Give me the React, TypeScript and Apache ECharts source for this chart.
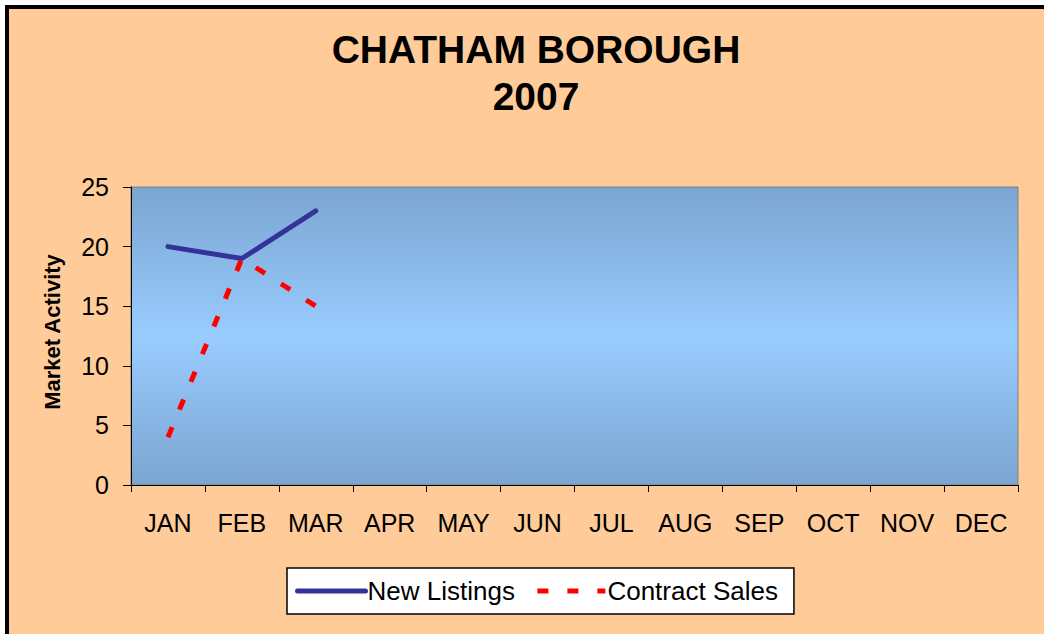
import React, { useEffect, useRef } from "react";
import * as echarts from "echarts";

const months = ["JAN", "FEB", "MAR", "APR", "MAY", "JUN", "JUL", "AUG", "SEP", "OCT", "NOV", "DEC"];
const newListings: (number | null)[] = [20, 19, 23, null, null, null, null, null, null, null, null, null];
const contractSales: (number | null)[] = [4, 19, 15, null, null, null, null, null, null, null, null, null];
const yTicks = { min: 0, max: 25, interval: 5 };

const FONT = "'Liberation Sans', Arial, sans-serif";

export default function App() {
  const ref = useRef<HTMLDivElement>(null);
  useEffect(() => {
    if (!ref.current) return;
    const chart = echarts.init(ref.current, null, { renderer: "svg" });
    chart.setOption({
      animation: false,
      backgroundColor: "#ffffff",
      textStyle: { fontFamily: FONT },
      graphic: [
        {
          type: "rect",
          z: -10,
          silent: true,
          shape: { x: 7, y: 7, width: 1100, height: 700 },
          style: { fill: "#FFCC99", stroke: "#000000", lineWidth: 4 },
        },
        {
          type: "text",
          x: 52,
          y: 332,
          rotation: Math.PI / 2,
          style: {
            text: "Market Activity",
            fontFamily: FONT,
            fontSize: 22,
            fontWeight: "bold",
            fill: "#000000",
            align: "center",
            verticalAlign: "middle",
          },
        },
      ],
      title: {
        text: "CHATHAM BOROUGH\n2007",
        left: 531,
        textAlign: "center",
        top: 21,
        textStyle: {
          fontFamily: FONT,
          fontSize: 39,
          fontWeight: "bold",
          color: "#000000",
          lineHeight: 47,
        },
      },
      legend: {
        left: 287,
        top: 568,
        orient: "horizontal",
        backgroundColor: "#ffffff",
        borderColor: "#000000",
        borderWidth: 1.5,
        borderRadius: 0,
        padding: [10, 16, 10, 8],
        itemGap: 20,
        itemWidth: 68,
        itemHeight: 14,
        itemStyle: { opacity: 0 },
        lineStyle: { width: 5 },
        textStyle: { fontFamily: FONT, fontSize: 26, color: "#000000", padding: [0, 0, 0, -3] },
        data: ["New Listings", "Contract Sales"],
      },
      grid: {
        left: 131,
        right: 26,
        top: 187,
        bottom: 149,
        show: true,
        borderColor: "#808080",
        borderWidth: 1,
        backgroundColor: new echarts.graphic.LinearGradient(0, 0, 0, 1, [
          { offset: 0, color: "#7BA5D0" },
          { offset: 0.5, color: "#99CCFF" },
          { offset: 1, color: "#7BA5D0" },
        ]),
      },
      xAxis: {
        type: "category",
        data: months,
        boundaryGap: true,
        axisLine: { show: true, lineStyle: { color: "#000000", width: 1 } },
        axisTick: { show: true, inside: false, length: 7, alignWithLabel: false, lineStyle: { color: "#000000" } },
        axisLabel: { fontFamily: FONT, fontSize: 25, color: "#000000", margin: 25, interval: 0 },
        splitLine: { show: false },
      },
      yAxis: {
        type: "value",
        min: yTicks.min,
        max: yTicks.max,
        interval: yTicks.interval,
        axisLine: { show: true, lineStyle: { color: "#000000", width: 1 } },
        axisTick: { show: true, inside: false, length: 8, lineStyle: { color: "#000000" } },
        axisLabel: { fontFamily: FONT, fontSize: 25, color: "#000000", margin: 22 },
        splitLine: { show: false },
      },
      series: [
        {
          name: "New Listings",
          type: "line",
          data: newListings,
          symbol: "none",
          connectNulls: false,
          lineStyle: { color: "#333399", width: 5, cap: "round" },
          itemStyle: { color: "#333399" },
        },
        {
          name: "Contract Sales",
          type: "line",
          data: contractSales,
          symbol: "none",
          connectNulls: false,
          lineStyle: { color: "#FF0000", width: 5, type: [11, 19] },
          itemStyle: { color: "#FF0000" },
        },
      ],
    });
    return () => chart.dispose();
  }, []);
  return (
    <div
      ref={ref}
      style={{ position: "fixed", left: 0, top: 0, width: 1044, height: 634 }}
    />
  );
}
